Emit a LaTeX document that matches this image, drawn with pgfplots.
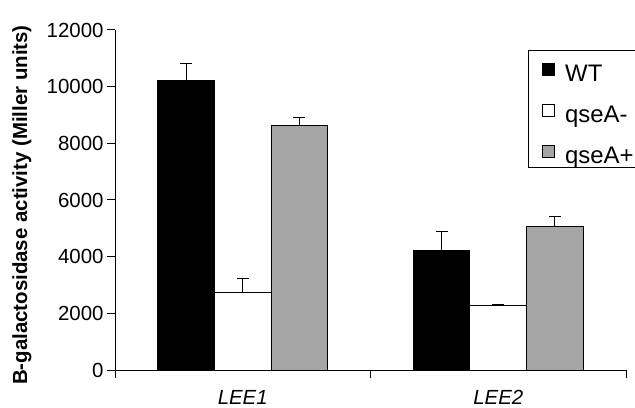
\documentclass[border=0pt]{standalone}
\usepackage{fontspec}
\setmainfont{Liberation Sans}
\usepackage{pgfplots}
\pgfplotsset{compat=1.18}
\definecolor{barGray}{RGB}{165,165,165}
\newcommand{\lf}{\fontsize{24}{28}\selectfont}
\newcommand{\legent}[1]{{\lf\rule[-8.4bp]{0pt}{36bp}\makebox[75bp][l]{#1}}}
\begin{document}
\begin{tikzpicture}
\useasboundingbox (0,0) rectangle (635bp,408bp);
\begin{axis}[
  at={(115bp,38bp)}, anchor=south west,
  scale only axis, width=511bp, height=340bp,
  xmin=-0.5, xmax=1.5, ymin=0, ymax=12000,
  axis x line*=bottom, axis y line*=left,
  axis line style={-, line width=1bp},
  tick align=outside,
  ybar=0pt, bar width=0.222,
  xtick={0,1}, xticklabels={\textit{LEE1},\textit{LEE2}},
  minor xtick={-0.5,0.5,1.5},
  every major x tick/.append style={draw=none},
  minor tick length=8bp, major tick length=8bp,
  every tick/.append style={line width=1bp, black},
  ytick={0,2000,...,12000},
  scaled y ticks=false,
  /pgf/number format/assume math mode=true,
  yticklabel style={/pgf/number format/fixed, /pgf/number format/1000 sep={}},
  tick label style={font=\fontsize{20.5}{24}\selectfont},
  xticklabel style={yshift=-9bp},
  ylabel={\textbf{B-galactosidase activity (Miller units)}},
  ylabel style={font=\fontsize{20.5}{24}\selectfont, at={(axis description cs:-0.182,0.485)}, anchor=center},
  legend style={at={(axis description cs:0.808,0.941)}, anchor=north west, draw=black, line width=0.8bp,
    row sep=8bp, inner xsep=14bp, inner ysep=1bp},
  legend cell align=left,
  legend image code/.code={\draw[#1, line width=0.8bp] (0bp,-7bp) rectangle (12bp,5bp); \path (20bp,0bp);},
  error bars/error bar style={line width=1bp, black},
  error bars/error mark options={rotate=90, mark size=6bp, line width=1bp, black},
]
\addplot[fill=black, draw=black, line width=1bp,
  error bars/.cd, y dir=plus, y explicit]
  coordinates {(0,10235) +- (0,565) (1,4212) +- (0,670)};
\addplot[fill=white, draw=black, line width=1bp,
  error bars/.cd, y dir=plus, y explicit]
  coordinates {(0,2730) +- (0,505) (1,2259) +- (0,47)};
\addplot[fill=barGray, draw=black, line width=1bp,
  error bars/.cd, y dir=plus, y explicit]
  coordinates {(0,8635) +- (0,270) (1,5082) +- (0,318)};
\legend{\legent{WT}, \legent{qseA-}, \legent{qseA+}}
\end{axis}
\end{tikzpicture}
\end{document}
